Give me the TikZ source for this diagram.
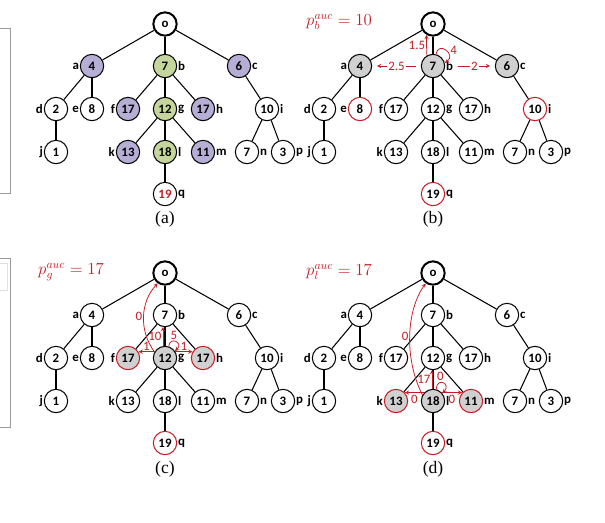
\documentclass[tikz,border=0pt]{standalone}
\usepackage{fontspec}
\setmainfont{Liberation Serif}
\setsansfont{Carlito}
\usepackage{tikz}
\usetikzlibrary{calc}
\definecolor{aucred}{RGB}{196,28,36}
\definecolor{lavfill}{RGB}{182,174,212}
\definecolor{grnfill}{RGB}{196,214,156}
\definecolor{gryfill}{RGB}{208,208,208}

\tikzset{
  vtx/.style={circle,draw,line width=0.9pt,minimum size=0.7cm,inner sep=0pt,
    font=\sffamily\bfseries\fontsize{11}{13}\selectfont},
  every label/.style={font=\sffamily\bfseries\fontsize{11}{13}\selectfont,text=black,inner sep=0.6pt},
  root/.style={line width=1.7pt},
  edge/.style={line width=0.9pt},
  lav/.style={fill=lavfill},
  grn/.style={fill=grnfill},
  gry/.style={fill=gryfill},
  redrim/.style={draw=aucred},
  flow/.style={->,draw=aucred,line width=0.65pt},
  flowlab/.style={text=aucred,font=\sffamily\fontsize{11}{13}\selectfont,inner sep=1pt},
  auclab/.style={text=aucred,font=\fontsize{14}{16}\selectfont,inner sep=0pt},
  caption/.style={font=\fontsize{15}{17}\selectfont,inner sep=0pt},
  nd-a/.style={}, nd-b/.style={}, nd-c/.style={}, nd-d/.style={}, nd-e/.style={},
  nd-f/.style={}, nd-g/.style={}, nd-h/.style={}, nd-i/.style={}, nd-j/.style={},
  nd-k/.style={}, nd-l/.style={}, nd-m/.style={}, nd-n/.style={}, nd-p/.style={},
  nd-q/.style={}
}

% one tree, #1 = prefix of the node names
\newcommand{\auctree}[1]{%
  \node[vtx,root] (#1o) at (165,24) {o};
  \node[vtx,nd-a,label={[name=#1a-l]left:a}]  (#1a) at (92,66)   {4};
  \node[vtx,nd-b,label={[name=#1b-l]right:b}] (#1b) at (165,66)  {7};
  \node[vtx,nd-c,label={[name=#1c-l]right:c}] (#1c) at (239,66)  {6};
  \node[vtx,nd-d,label={[name=#1d-l]left:d}]  (#1d) at (56,109)  {2};
  \node[vtx,nd-e,label={[name=#1e-l]left:e}]  (#1e) at (92,109)  {8};
  \node[vtx,nd-f,label={[name=#1f-l]left:f}]  (#1f) at (128,109) {17};
  \node[vtx,nd-g,label={[name=#1g-l]right:g}] (#1g) at (165,109) {12};
  \node[vtx,nd-h,label={[name=#1h-l]right:h}] (#1h) at (203,109) {17};
  \node[vtx,nd-i,label={[name=#1i-l]right:i}] (#1i) at (267,109) {10};
  \node[vtx,nd-j,label={[name=#1j-l]left:j}]  (#1j) at (56,152)  {1};
  \node[vtx,nd-k,label={[name=#1k-l]left:k}]  (#1k) at (128,152) {13};
  \node[vtx,nd-l,label={[name=#1l-l]right:l}] (#1l) at (165,152) {18};
  \node[vtx,nd-m,label={[name=#1m-l]right:m}] (#1m) at (203,152) {11};
  \node[vtx,nd-n,label={[name=#1n-l]right:n}] (#1n) at (247,152) {7};
  \node[vtx,nd-p,label={[name=#1p-l]right:p}] (#1p) at (283,152) {3};
  \node[vtx,nd-q,label={[name=#1q-l]right:q}] (#1q) at (165,194) {19};
  \foreach \u/\v in {o/a,o/b,o/c,a/d,a/e,d/j,b/f,b/g,b/h,g/k,g/l,g/m,l/q,c/i,i/n,i/p}
    \draw[edge] (#1\u) -- (#1\v);
}

\begin{document}
\begin{tikzpicture}[>=stealth,x=0.03cm,y=-0.03cm]
  \useasboundingbox (0,0) rectangle (605,523);
  % cut-off frames at the left edge
  \draw[gray!80,line width=0.7pt] (0,28) -- (10,28) -- (10,193) -- (0,193);
  \draw[gray!80,line width=0.7pt] (0,258) -- (10,258) -- (10,427) -- (0,427);
  \draw[gray!25,line width=0.6pt] (0,263) -- (7,263) -- (7,290) -- (0,290);

  % (a)
  \begin{scope}[nd-a/.style=lav,nd-c/.style=lav,nd-f/.style=lav,nd-h/.style=lav,
      nd-k/.style=lav,nd-m/.style=lav,nd-b/.style=grn,nd-g/.style=grn,nd-l/.style=grn,
      nd-q/.style={text=aucred}]
    \auctree{A}
  \end{scope}
  \node[caption] (Acap) at (165,219) {(a)};

  % (b)
  \begin{scope}[shift={(268,0)},nd-a/.style=gry,nd-b/.style=gry,nd-c/.style=gry,
      nd-e/.style=redrim,nd-i/.style=redrim,nd-q/.style=redrim]
    \auctree{B}
  \end{scope}
  \node[caption] (Bcap) at (433,219) {(b)};
  \node[auclab,anchor=west] (Bp) at (306,22) {$p_b^{auc} = 10$};
  \draw[flow,shorten <=4pt,shorten >=4pt] (Bb.west) -- node[flowlab,fill=white]{2.5} (Ba.east);
  \draw[flow,shorten <=3pt,shorten >=4pt] (Bb-l.east) -- node[flowlab,fill=white]{2} (Bc.west);
  \draw[flow] (Bb.121) -- node[flowlab,left]{1.5} (Bo.239);
  \draw[flow] (Bb.75) .. controls +(2,-14) and +(12,-8) .. node[flowlab,pos=0.75,above right]{4} (Bb.15);

  % (c)
  \begin{scope}[shift={(0,249)},nd-g/.style=gry,nd-f/.style={gry,redrim},
      nd-h/.style={gry,redrim},nd-q/.style=redrim]
    \auctree{C}
  \end{scope}
  \node[caption] (Ccap) at (165,469) {(c)};
  \node[auclab,anchor=west] (Cp) at (38,272) {$p_g^{auc} = 17$};
  \draw[flow] (Cg.149) -- node[flowlab,above]{1} (Cf.31);
  \draw[flow] (Cg.31) -- node[flowlab,above]{1} (Ch.149);
  \draw[flow] (Cg.100) -- node[flowlab,left]{10} (Cb.260);
  \draw[flow] (Cg.72) .. controls +(1,-11) and +(9,-8) .. node[flowlab,pos=0.4,above,inner sep=0.5pt]{5} (Cg.35);
  \draw[flow] (Cg.150) .. controls +(-16,-22) and +(-17,18) .. node[flowlab,left]{0} (Co.235);

  % (d)
  \begin{scope}[shift={(268,249)},nd-l/.style=gry,nd-k/.style={gry,redrim},
      nd-m/.style={gry,redrim},nd-q/.style=redrim]
    \auctree{D}
  \end{scope}
  \node[caption] (Dcap) at (433,469) {(d)};
  \node[auclab,anchor=west] (Dp) at (306,272) {$p_l^{auc} = 17$};
  \draw[flow] (Dl.136) -- node[flowlab,below=1pt]{0} (Dk.44);
  \draw[flow] (Dl.44) -- node[flowlab,below=1pt]{0} (Dm.136);
  \draw[flow] (Dl.95) -- node[flowlab,left]{17} (Dg.265);
  \draw[flow] (Dl.75) .. controls +(1,-13) and +(9,-9) .. node[flowlab,pos=0.35,above]{0} (Dl.40);
  \draw[flow] (Dl.150) .. controls +(-18,-35) and +(-20,28) .. node[flowlab,left]{0} (Do.235);
\end{tikzpicture}
\end{document}
